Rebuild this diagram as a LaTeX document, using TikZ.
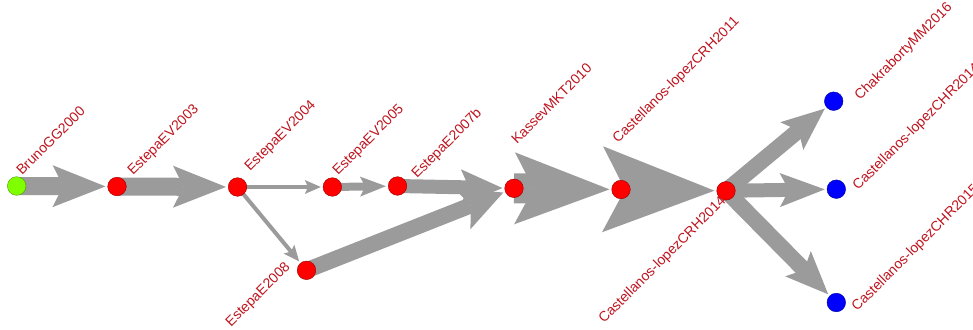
\documentclass[tikz,border=0pt]{standalone}
\usepackage{fontspec}
\newfontfamily\labfont{Liberation Sans}
\usetikzlibrary{calc,backgrounds}
\definecolor{edgegray}{RGB}{155,155,155}
\definecolor{labred}{RGB}{190,20,30}
\definecolor{ngreen}{RGB}{128,255,0}
\definecolor{nred}{RGB}{255,0,0}
\definecolor{nblue}{RGB}{0,0,255}
\tikzset{
  vert/.style={circle,minimum size=18.6pt,inner sep=0pt,draw=#1!60!black,line width=0.4pt,fill=#1},
  lab/.style={inner sep=0pt,anchor=base west,rotate=45,text=labred,font=\labfont\fontsize{14}{16}\selectfont},
  edgefill/.style={fill=edgegray}
}
% #1 source, #2 target, #3 shaft half width, #4 head half width, #5 head length
\newcommand\garrow[5]{%
  \coordinate (gt) at ($(#2.center)!11.5pt!(#1.center)$);
  \coordinate (gw) at ($(gt)!#5pt!(#1.center)$);
  \coordinate (gb) at ($(gt)!0.8*#5pt!(#1.center)$);
  \fill[edgefill] ($(#1.center)!#3pt!90:(gb)$) -- ($(gb)!#3pt!-90:(#1.center)$) -- ($(gb)!#3pt!90:(#1.center)$) -- ($(#1.center)!#3pt!-90:(gb)$) -- cycle;
  \fill[edgefill] (gt) -- ($(gw)!#4pt!90:(gt)$) -- (gb) -- ($(gw)!#4pt!-90:(gt)$) -- cycle;
}
\begin{document}
\begin{tikzpicture}[x=1pt,y=-1pt]
\useasboundingbox (0,0) rectangle (973,329);
\clip (0,0) rectangle (973,329);
% vertices
\node[vert=ngreen] (bruno) at (16.7,186) {};
\node[vert=nred] (ev03) at (117,186.5) {};
\node[vert=nred] (ev04) at (237.5,187) {};
\node[vert=nred] (ev05) at (332.3,187) {};
\node[vert=nred] (e07b) at (397.5,186) {};
\node[vert=nred] (e08) at (306.5,270.3) {};
\node[vert=nred] (kas) at (514,188.3) {};
\node[vert=nred] (c11) at (621,189.5) {};
\node[vert=nred] (c14) at (726,190.8) {};
\node[vert=nblue] (cha) at (833.7,101.2) {};
\node[vert=nblue] (h14) at (836.3,189.2) {};
\node[vert=nblue] (h15) at (836.3,302.5) {};
% edges
\begin{pgfonlayer}{background}
\garrow{bruno}{ev03}{9}{21}{53}
\garrow{ev03}{ev04}{9}{21}{53}
\garrow{ev04}{ev05}{2}{7}{16}
\garrow{ev04}{e08}{2}{7}{16}
\garrow{ev05}{e07b}{4}{10}{26}
\garrow{e07b}{kas}{7}{18}{42}
\garrow{e08}{kas}{8}{22}{44}
\garrow{kas}{c11}{15}{36}{95}
\garrow{c11}{c14}{17}{43}{112}
\garrow{c14}{cha}{8}{18}{43}
\garrow{c14}{h14}{7}{17}{45}
\garrow{c14}{h15}{8}{18}{43}
\end{pgfonlayer}
% labels
\node[lab] (lbruno) at (22,176) {BrunoGG2000};
\node[lab] (lev03) at (133,176) {EstepaEV2003};
\node[lab] (lev04) at (250,172) {EstepaEV2004};
\node[lab] (lev05) at (338,176) {EstepaEV2005};
\node[lab] (le07b) at (417,179) {EstepaE2007b};
\node[lab] (le08) at (231,327.5) {EstepaE2008};
\node[lab] (lkas) at (517,145) {KassevMKT2010};
\node[lab] (lc11) at (618,144) {Castellanos-lopezCRH2011};
\node[lab] (lc14) at (604,324) {Castellanos-lopezCRH2014};
\node[lab] (lcha) at (860,101) {ChakrabortyMM2016};
\node[lab] (lh14) at (858,191) {Castellanos-lopezCHR2014};
\node[lab] (lh15) at (857,312) {Castellanos-lopezCHR2015};
\end{tikzpicture}
\end{document}
